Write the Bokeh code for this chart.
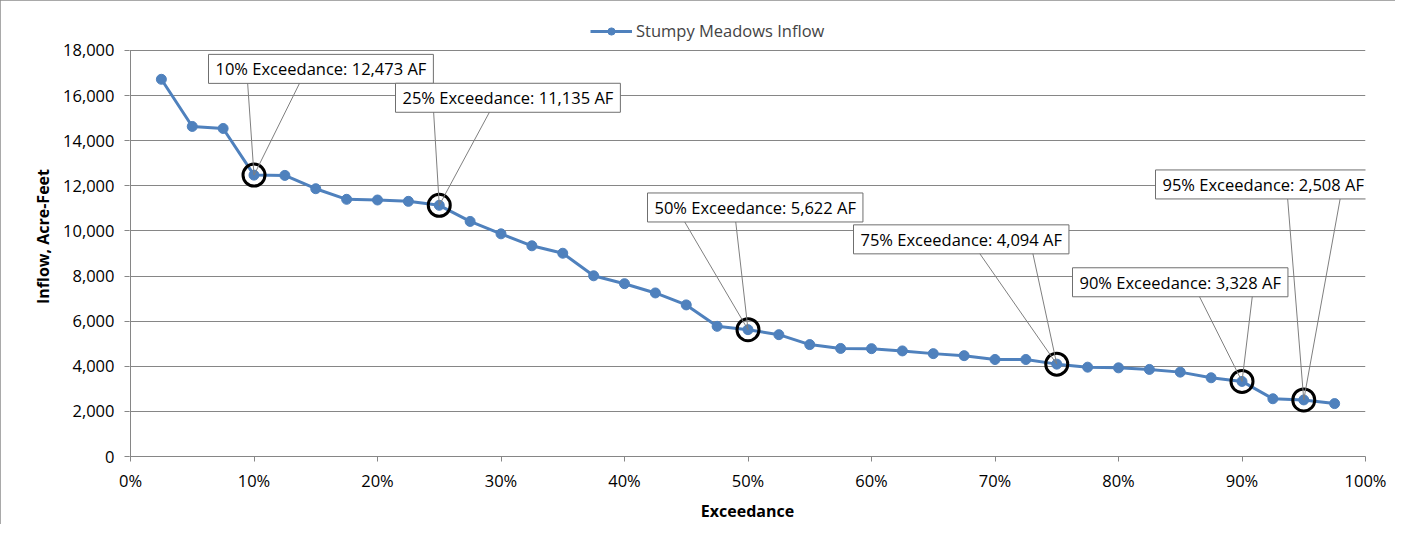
from bokeh.plotting import figure
from bokeh.models import Label, Legend, LegendItem, NumeralTickFormatter, FixedTicker, Range1d
from bokeh.embed import file_html
from bokeh.resources import INLINE

# ---------------- data ----------------
series_name = "Stumpy Meadows Inflow"
exceedance = [0.025, 0.05, 0.075, 0.10, 0.125, 0.15, 0.175, 0.20, 0.225, 0.25,
              0.275, 0.30, 0.325, 0.35, 0.375, 0.40, 0.425, 0.45, 0.475, 0.50,
              0.525, 0.55, 0.575, 0.60, 0.625, 0.65, 0.675, 0.70, 0.725, 0.75,
              0.775, 0.80, 0.825, 0.85, 0.875, 0.90, 0.925, 0.95, 0.975]
inflow = [16720, 14630, 14540, 12473, 12460, 11870, 11400, 11370, 11310, 11135,
          10420, 9870, 9340, 9010, 8010, 7660, 7250, 6720, 5770, 5622,
          5400, 4960, 4790, 4780, 4680, 4560, 4470, 4300, 4300, 4094,
          3960, 3930, 3860, 3740, 3490, 3328, 2560, 2508, 2345]
highlight_exceedance = [0.10, 0.25, 0.50, 0.75, 0.90, 0.95]
highlight_inflow = [12473, 11135, 5622, 4094, 3328, 2508]
x_ticks = [0.0, 0.1, 0.2, 0.3, 0.4, 0.5, 0.6, 0.7, 0.8, 0.9, 1.0]
y_ticks = [0, 2000, 4000, 6000, 8000, 10000, 12000, 14000, 16000, 18000]
x_title = "Exceedance"
y_title = "Inflow, Acre-Feet"

# ---------------- layout (pixels) ----------------
FW, FH = 1395, 524
X0_PX, X1_PX = 130, 1365      # x = 0 .. 1 on the page
Y0_PX, Y1_PX = 457, 50        # y = 0 .. 18000 on the page
TOP_PX = 16                    # frame top (room for the legend)
LEFT_PX = 129                  # frame left (1px before x = 0)
XMAX, YMAX = 1.0, 18000.0
XPP = XMAX / (X1_PX - X0_PX)   # data per px
YPP = YMAX / (Y0_PX - Y1_PX)
ML, MR, MT, MB = LEFT_PX, FW - X1_PX, TOP_PX, FH - Y0_PX

# callout box top-left offsets from the point (px, y up), wedge foot x offsets
box_dx = [-45.5, -43.75, -100.5, -203.25, -169.5, -148.25]
box_dy = [121, 122.3, 137, 139.6, 113.9, 230.5]
wedge_l = [-6.5, -5.75, -64.5, -78.25, -43.5, -16.25]
wedge_r = [46.5, 51.25, -12.5, -24.25, 10.5, 36.75]
BOX_H = 27

FONT = "Open Sans"
FS = "16.5px"
FS_TITLE = "16px"
BLUE = "#4F81BD"
GREY = "#868686"

def px2x(d):
    return d * XPP

def px2y(d):
    return d * YPP

x_start = -(X0_PX - LEFT_PX) * XPP
y_end = YMAX + (Y1_PX - TOP_PX) * YPP

p = figure(width=FW, height=FH, output_backend="svg", toolbar_location=None,
           x_range=Range1d(x_start, XMAX), y_range=Range1d(0, y_end),
           min_border_left=ML, min_border_right=MR,
           min_border_top=MT, min_border_bottom=MB)
p.outline_line_color = None
p.background_fill_color = "white"
p.border_fill_color = "white"
p.styles = {"outline": "1px solid #8c8c8c", "outline-offset": "-1px"}

p.xgrid.visible = False
p.ygrid.grid_line_color = GREY
p.ygrid.grid_line_width = 1

p.xaxis.ticker = FixedTicker(ticks=x_ticks)
p.yaxis.ticker = FixedTicker(ticks=y_ticks)
p.xaxis.formatter = NumeralTickFormatter(format="0%")
p.yaxis.formatter = NumeralTickFormatter(format="0,0")
for ax in (p.xaxis, p.yaxis):
    ax.axis_line_color = GREY
    ax.major_tick_line_color = GREY
    ax.minor_tick_line_color = None
    ax.major_tick_in = 0
    ax.major_tick_out = 5
    ax.major_label_text_font = FONT
    ax.major_label_text_font_size = FS
    ax.major_label_text_color = "black"
    ax.axis_label_text_font = FONT
    ax.axis_label_text_font_size = FS_TITLE
    ax.axis_label_text_font_style = "bold"
    ax.axis_label_text_color = "black"
p.yaxis.axis_line_color = None
p.xaxis.major_label_standoff = 7
p.yaxis.major_label_standoff = 10
p.xaxis.axis_label = x_title
p.yaxis.axis_label = y_title
p.xaxis.axis_label_standoff = 5
p.yaxis.axis_label_standoff = 6

# vertical value axis line, from 0 to the top tick
p.segment(x0=[0], y0=[y_ticks[0]], x1=[0], y1=[y_ticks[-1]], line_color=GREY, line_width=1)

r_line = p.line(exceedance, inflow, line_color=BLUE, line_width=3)
r_pts = p.scatter(exceedance, inflow, size=10, fill_color=BLUE, line_color=BLUE)

p.scatter(highlight_exceedance, highlight_inflow, size=22, fill_color=None,
          line_color="black", line_width=3)

# callout wedges
x0s, y0s, x1s, y1s = [], [], [], []
for hx, hy, wl, wr, dy in zip(highlight_exceedance, highlight_inflow, wedge_l, wedge_r, box_dy):
    yb = hy + px2y(dy - BOX_H)
    for w in (wl, wr):
        x0s.append(hx + px2x(w))
        y0s.append(yb)
        x1s.append(hx)
        y1s.append(hy)
p.segment(x0s, y0s, x1s, y1s, line_color="#7f7f7f", line_width=1)

# callout boxes
for hx, hy, dx, dy in zip(highlight_exceedance, highlight_inflow, box_dx, box_dy):
    txt = f"{round(hx * 100)}% Exceedance: {hy:,} AF"
    lab = Label(x=hx + px2x(dx), y=hy + px2y(dy), text=txt,
                anchor="top_left", text_align="left", text_baseline="top",
                text_font=FONT, text_font_size=FS, text_color="black",
                background_fill_color="white", border_line_color="#6f6f6f",
                border_line_width=1, padding=(7, 3))
    p.add_layout(lab)

# legend, placed in the strip above the 18,000 line (frame coords from bottom-left)
legend = Legend(items=[LegendItem(label=series_name, renderers=[r_line, r_pts])],
                location=(590 - LEFT_PX, Y0_PX - 43), orientation="horizontal",
                padding=0, margin=0, spacing=0, glyph_width=42, glyph_height=18,
                label_height=18, label_standoff=4,
                border_line_alpha=0, background_fill_alpha=0,
                label_text_font=FONT, label_text_font_size=FS)
p.add_layout(legend)

open("out.html", "w").write(file_html(p, INLINE))
